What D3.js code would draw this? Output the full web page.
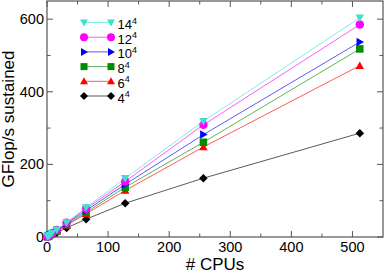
<!DOCTYPE html>
<html>
<head>
<meta charset="utf-8">
<script src="https://cdn.jsdelivr.net/npm/d3@7"></script>
<style>
  body { margin: 0; background: #fff; }
  text { font-family: "Liberation Sans", Arial, sans-serif; }
</style>
</head>
<body>
<div id="chart"></div>
<script>
const width = 385, height = 273;
const margin = { top: 1, right: 2, bottom: 36, left: 47 };

const cpus = [1, 2, 4, 8, 16, 32, 64, 128, 256, 512];
const series = ["14", "12", "10", "8", "6", "4"];
const colors = ["#40e0d0", "#ff00ff", "#0000ff", "#008b00", "#ff0000", "#000000"];
const shapes = ["tdown", "circle", "tright", "square", "tup", "diamond"];
const values = [
    [1.3, 2.5, 5, 10, 20, 40, 81, 162, 319, 604],
    [1.2, 2.4, 4.9, 10, 19, 39, 78, 153, 309, 585],
    [1.2, 2.3, 4.6, 9, 18, 37, 73, 145, 282, 537],
    [1.1, 2.2, 4.3, 9, 17, 34, 68, 137, 261, 518],
    [1.0, 2.0, 4.0, 8, 16, 32, 64, 128, 248, 472],
    [0.8, 1.5, 3.0, 6, 12, 25, 49, 93, 162, 286]
];
const xTicks = [0, 100, 200, 300, 400, 500];
const yTicks = [0, 200, 400, 600];

const svg = d3.select("#chart").append("svg")
    .attr("width", width)
    .attr("height", height);

const x = d3.scaleLinear().domain([0, 550]).range([margin.left, width - margin.right]);
const y = d3.scaleLinear().domain([0, 650]).range([height - margin.bottom, margin.top]);

const axisColor = "#555";
const g = svg.append("g");

// ticks on all four sides, pointing in
const xMinor = d3.range(50, 550, 100);
const yMinor = d3.range(100, 650, 200);
const drawTicks = (vals, len) => {
    vals.forEach(v => {
        g.append("line").attr("x1", x(v)).attr("x2", x(v)).attr("y1", y(0)).attr("y2", y(0) - len);
        g.append("line").attr("x1", x(v)).attr("x2", x(v)).attr("y1", y(650)).attr("y2", y(650) + len);
    });
};
const drawYTicks = (vals, len) => {
    vals.forEach(v => {
        g.append("line").attr("y1", y(v)).attr("y2", y(v)).attr("x1", x(0)).attr("x2", x(0) + len);
        g.append("line").attr("y1", y(v)).attr("y2", y(v)).attr("x1", x(550)).attr("x2", x(550) - len);
    });
};
drawTicks(xTicks, 6);
drawTicks(xMinor, 3.5);
drawYTicks(yTicks, 6);
drawYTicks(yMinor, 3.5);
g.selectAll("line").attr("stroke", axisColor).attr("stroke-width", 1);

g.append("rect")
    .attr("x", x(0)).attr("y", y(650))
    .attr("width", x(550) - x(0)).attr("height", y(0) - y(650))
    .attr("fill", "none").attr("stroke", axisColor).attr("stroke-width", 1.2);

g.selectAll(".xt").data(xTicks).enter().append("text")
    .attr("x", d => x(d)).attr("y", y(0) + 14.5)
    .attr("text-anchor", "middle").attr("font-size", 14.5)
    .text(d => d);
g.selectAll(".yt").data(yTicks).enter().append("text")
    .attr("x", x(0) - 3).attr("y", d => y(d) + 5)
    .attr("text-anchor", "end").attr("font-size", 14.5)
    .text(d => d);

svg.append("text")
    .attr("x", (x(0) + x(550)) / 2).attr("y", height - 3.5)
    .attr("text-anchor", "middle").attr("font-size", 17)
    .text("# CPUs");
svg.append("text")
    .attr("transform", `translate(13.5,${(y(0) + y(650)) / 2}) rotate(-90)`)
    .attr("text-anchor", "middle").attr("font-size", 17)
    .text("GFlop/s sustained");

const marker = (sel, shape, color, s) => {
    const h = s / 2;
    if (shape === "circle") {
        sel.append("circle").attr("r", h).attr("fill", color);
    } else if (shape === "square") {
        sel.append("rect").attr("x", -h + 0.5).attr("y", -h + 0.5).attr("width", s - 1).attr("height", s - 1).attr("fill", color);
    } else {
        const pts = {
            tdown: [[-h, -h + 1], [h, -h + 1], [0, h]],
            tup: [[-h, h - 1], [h, h - 1], [0, -h]],
            tright: [[-h + 1, -h], [-h + 1, h], [h, 0]],
            diamond: [[0, -h], [h, 0], [0, h], [-h, 0]]
        }[shape];
        sel.append("polygon").attr("points", pts.map(p => p.join(",")).join(" ")).attr("fill", color);
    }
};

const line = d3.line().x((d, i) => x(cpus[i])).y(d => y(d));

// draw in reverse so 14^4 ends on top
for (let k = series.length - 1; k >= 0; k--) {
    svg.append("path")
        .attr("d", line(values[k]))
        .attr("fill", "none")
        .attr("stroke", colors[k])
        .attr("stroke-opacity", 0.65)
        .attr("stroke-width", 1);
    values[k].forEach((v, i) => {
        const m = svg.append("g").attr("transform", `translate(${x(cpus[i])},${y(v)})`);
        marker(m, shapes[k], colors[k], 8.5);
    });
}

// legend
const legX1 = 84, legX2 = 111, legY0 = 22.5, legStep = 14.7;
series.forEach((s, k) => {
    const yy = legY0 + k * legStep;
    svg.append("line")
        .attr("x1", legX1).attr("x2", legX2).attr("y1", yy).attr("y2", yy)
        .attr("stroke", colors[k]).attr("stroke-opacity", 0.65);
    [legX1, legX2].forEach(xx => {
        const m = svg.append("g").attr("transform", `translate(${xx},${yy})`);
        marker(m, shapes[k], colors[k], 8);
    });
    const t = svg.append("text")
        .attr("x", legX2 + 6.5).attr("y", yy + 6.5)
        .attr("font-size", 13);
    t.append("tspan").text(s);
    t.append("tspan").attr("dy", -5.5).attr("font-size", 9).text("4");
});
</script>
</body>
</html>
